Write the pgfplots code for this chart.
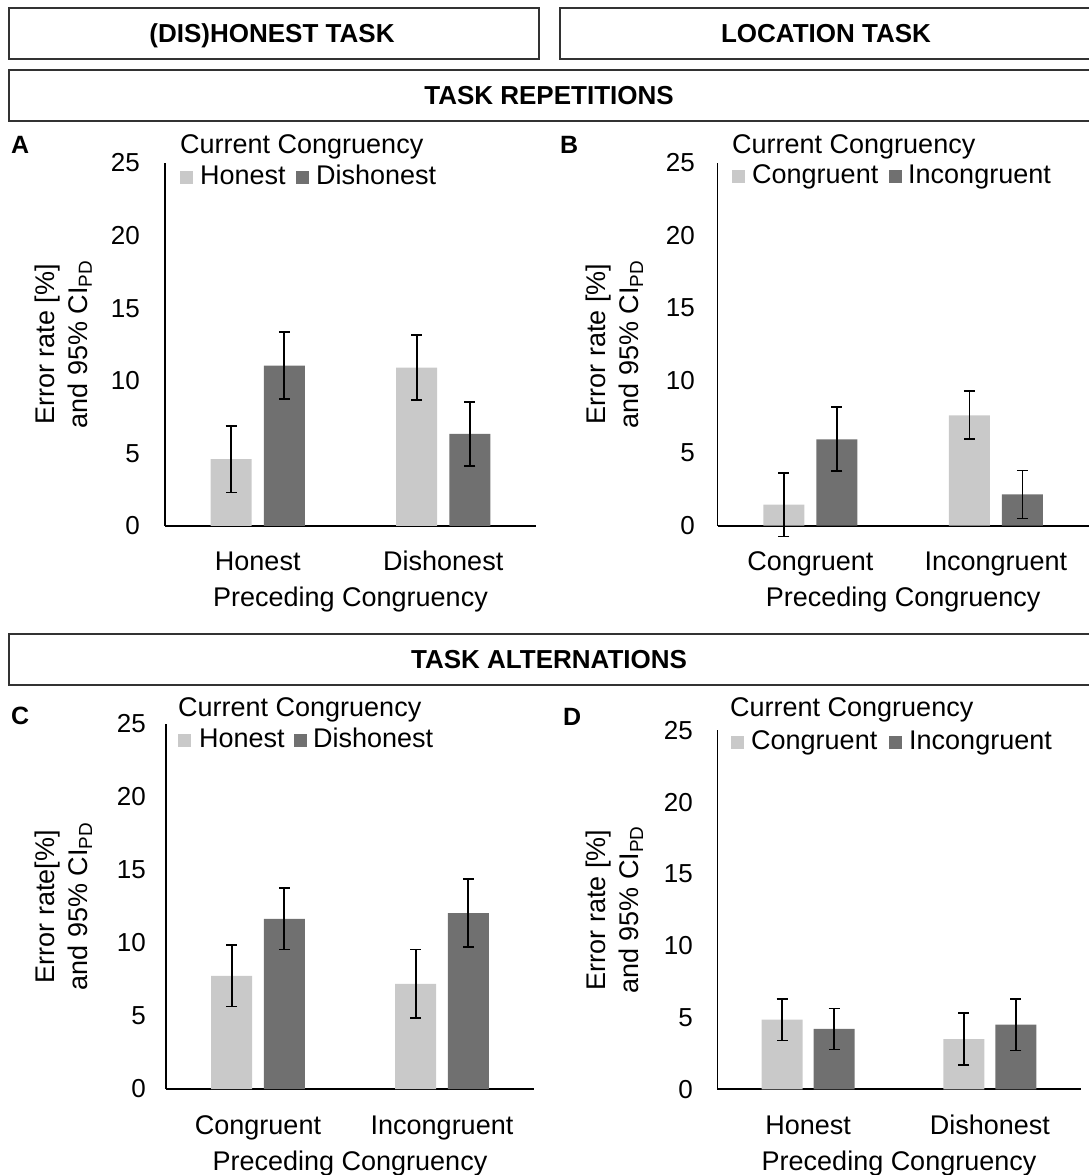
\documentclass[border=0pt]{standalone}
\usepackage{fontspec}
\setmainfont{Liberation Sans}
\usepackage{pgfplots}
\pgfplotsset{compat=1.18}

\definecolor{lightbar}{RGB}{201,201,201}
\definecolor{darkbar}{RGB}{112,112,112}
\definecolor{boxline}{RGB}{50,50,50}

\newcommand{\txt}{\fontsize{27}{33}\selectfont}
\newcommand{\tck}{\fontsize{26}{30}\selectfont}
\newcommand{\hdr}{\fontsize{26}{30}\selectfont\bfseries}
\newcommand{\pnl}{\fontsize{25}{30}\selectfont\bfseries}

% Bars of each group sit at x = group -/+ 0.143 (previous trial's category 0 or 1)
\pgfplotsset{
  panel/.style={
    scale only axis, anchor=south west,
    xmin=-0.5, xmax=1.5, ymin=0, ymax=25,
    axis x line*=bottom, axis y line*=left,
    x axis line style={-, line width=2pt, black},
    y axis line style={-, line width=1.3pt, black},
    xtick={0,1}, ytick={0,5,10,15,20,25},
    major tick length=0pt,
    /pgf/number format/assume math mode=true,
    xticklabel style={font=\txt, anchor=base, inner sep=0pt, yshift=-45pt},
    xlabel={Preceding Congruency},
    every axis x label/.style={at={(axis description cs:0.5,0)}, anchor=base, inner sep=0pt, yshift=-81pt, font=\txt},
    clip=false,
  },
  ylab/.style={
    every axis y label/.style={at={(axis description cs:#1,0.5)}, rotate=90, anchor=center, align=center, font=\txt},
  },
  ytl/.style={yticklabel style={font=\tck, anchor=east, inner sep=0pt, xshift=#1}},
  cibar/.style={
    ybar, bar width=41pt, bar shift=0pt, draw=none,
    error bars/y dir=both, error bars/y explicit,
    error bars/error bar style={line width=1.8pt, black},
    error bars/error mark options={rotate=90, mark size=5.5pt, line width=1.8pt, black},
  },
}

\begin{document}
\begin{tikzpicture}
\useasboundingbox (0pt,0pt) rectangle (1088pt,1175pt);

% header boxes
\draw[boxline, line width=2.8pt] (9pt,1116pt) rectangle (539pt,1167pt);
\draw[boxline, line width=2.8pt] (560pt,1116pt) rectangle (1092pt,1167pt);
\draw[boxline, line width=2.8pt] (9pt,1054pt) rectangle (1092pt,1105pt);
\draw[boxline, line width=2.8pt] (9pt,490pt) rectangle (1092pt,541pt);
\node[font=\hdr, anchor=base, inner sep=0pt] at (272pt,1132pt) {(DIS)HONEST TASK};
\node[font=\hdr, anchor=base, inner sep=0pt] at (826pt,1132pt) {LOCATION TASK};
\node[font=\hdr, anchor=base, inner sep=0pt] at (549pt,1070pt) {TASK REPETITIONS};
\node[font=\hdr, anchor=base, inner sep=0pt] at (549pt,506pt) {TASK ALTERNATIONS};

% panel letters
\node[font=\pnl, anchor=base west, inner sep=0pt] at (11pt,1021pt) {A};
\node[font=\pnl, anchor=base west, inner sep=0pt] at (560pt,1021pt) {B};
\node[font=\pnl, anchor=base west, inner sep=0pt] at (11pt,450pt) {C};
\node[font=\pnl, anchor=base west, inner sep=0pt] at (563pt,449pt) {D};

% A: (dis)honest task, repetitions
\begin{axis}[panel, at={(165pt,649pt)}, width=371pt, height=363pt,
  xticklabels={Honest, Dishonest}, ytl=-25pt, ylab=-0.2736,
  ylabel={Error rate [\%]\\and 95\% CI\textsubscript{PD}}]
\addplot[cibar, fill=lightbar] coordinates {(-0.143,4.6) +- (0,2.3) (0.857,10.9) +- (0,2.25)};
\addplot[cibar, fill=darkbar] coordinates {(0.143,11.05) +- (0,2.3) (1.143,6.35) +- (0,2.2)};
\end{axis}

% B: location task, repetitions
\begin{axis}[panel, at={(717.7pt,649.3pt)}, width=371pt, height=363pt,
  xticklabels={Congruent, Incongruent}, ytl=-22.7pt, ylab=-0.278,
  ylabel={Error rate [\%]\\and 95\% CI\textsubscript{PD}}]
\addplot[cibar, fill=lightbar] coordinates {(-0.143,1.45) +- (0,2.2) (0.857,7.6) +- (0,1.65)};
\addplot[cibar, fill=darkbar] coordinates {(0.143,5.95) +- (0,2.2) (1.143,2.15) +- (0,1.65)};
\end{axis}

% C: (dis)honest task, alternations
\begin{axis}[panel, at={(166pt,86pt)}, width=368pt, height=365pt,
  xticklabels={Congruent, Incongruent}, ytl=-20pt, ylab=-0.2785,
  ylabel={Error rate[\%]\\and 95\% CI\textsubscript{PD}}]
\addplot[cibar, fill=lightbar] coordinates {(-0.143,7.75) +- (0,2.1) (0.857,7.2) +- (0,2.35)};
\addplot[cibar, fill=darkbar] coordinates {(0.143,11.65) +- (0,2.1) (1.143,12.05) +- (0,2.35)};
\end{axis}

% D: location task, alternations
\begin{axis}[panel, at={(717.3pt,85.7pt)}, width=363.5pt, height=359pt,
  xticklabels={Honest, Dishonest}, ytl=-24.3pt, ylab=-0.2828,
  ylabel={Error rate [\%]\\and 95\% CI\textsubscript{PD}}]
\addplot[cibar, fill=lightbar] coordinates {(-0.143,4.85) +- (0,1.45) (0.857,3.5) +- (0,1.8)};
\addplot[cibar, fill=darkbar] coordinates {(0.143,4.2) +- (0,1.43) (1.143,4.5) +- (0,1.8)};
\end{axis}

% legends
\node[font=\txt, anchor=base west, inner sep=0pt] at (180pt,1021pt) {Current Congruency};
\fill[lightbar] (180pt,991pt) rectangle (193pt,1004pt);
\node[font=\txt, anchor=base west, inner sep=0pt] at (200pt,990pt) {Honest};
\fill[darkbar] (296pt,991pt) rectangle (309pt,1004pt);
\node[font=\txt, anchor=base west, inner sep=0pt] at (316pt,990pt) {Dishonest};

\node[font=\txt, anchor=base west, inner sep=0pt] at (732pt,1021pt) {Current Congruency};
\fill[lightbar] (732pt,992pt) rectangle (745pt,1005pt);
\node[font=\txt, anchor=base west, inner sep=0pt] at (752pt,991pt) {Congruent};
\fill[darkbar] (889pt,992pt) rectangle (902pt,1005pt);
\node[font=\txt, anchor=base west, inner sep=0pt] at (908pt,991pt) {Incongruent};

\node[font=\txt, anchor=base west, inner sep=0pt] at (178pt,458pt) {Current Congruency};
\fill[lightbar] (178pt,428pt) rectangle (191pt,441pt);
\node[font=\txt, anchor=base west, inner sep=0pt] at (199pt,427pt) {Honest};
\fill[darkbar] (294pt,428pt) rectangle (307pt,441pt);
\node[font=\txt, anchor=base west, inner sep=0pt] at (313pt,427pt) {Dishonest};

\node[font=\txt, anchor=base west, inner sep=0pt] at (730pt,458pt) {Current Congruency};
\fill[lightbar] (731pt,426pt) rectangle (744pt,439pt);
\node[font=\txt, anchor=base west, inner sep=0pt] at (751pt,425pt) {Congruent};
\fill[darkbar] (889pt,426pt) rectangle (902pt,439pt);
\node[font=\txt, anchor=base west, inner sep=0pt] at (909pt,425pt) {Incongruent};
\end{tikzpicture}
\end{document}
